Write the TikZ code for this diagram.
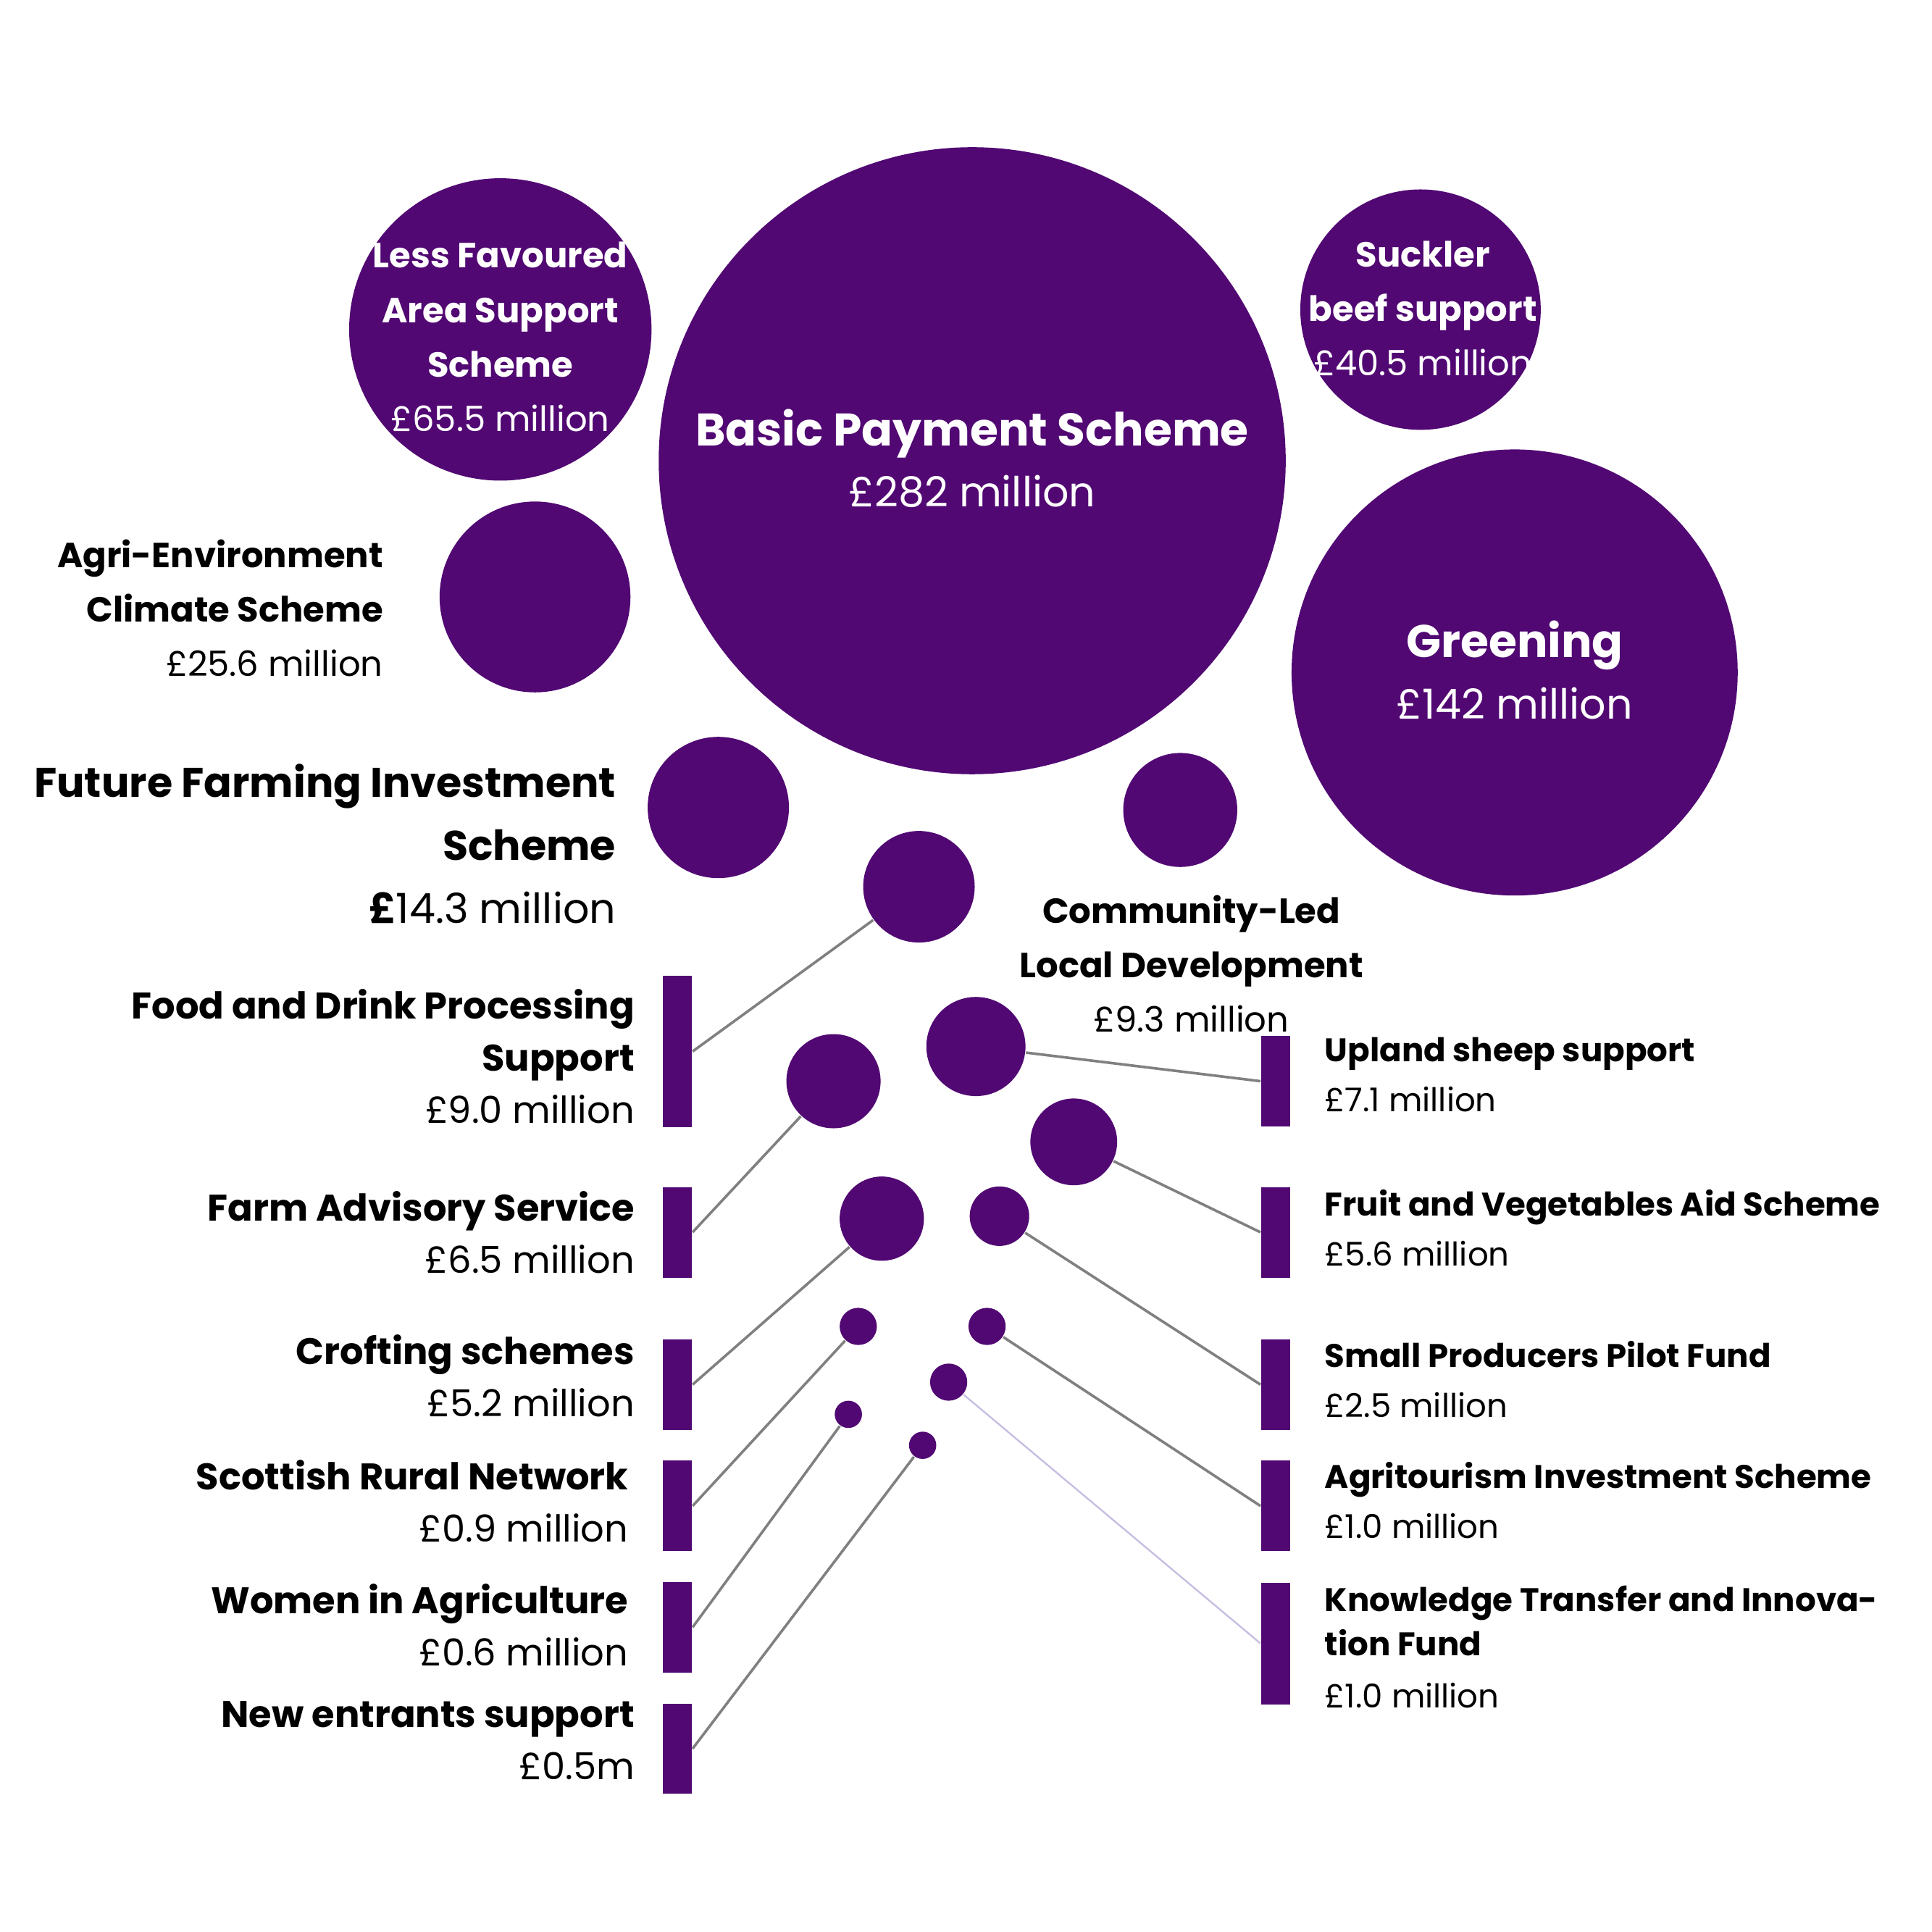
\documentclass[tikz,border=0pt]{standalone}
\usepackage{fontspec}
\setmainfont{Poppins}
\usetikzlibrary{positioning}
\definecolor{fundpurple}{RGB}{81,8,115}
\definecolor{linegrey}{RGB}{128,128,128}
\definecolor{lavender}{RGB}{200,190,225}

\begin{document}
\begin{tikzpicture}[x=0.01cm, y=-0.01cm,
					fund/.style={circle, fill=fundpurple, inner sep=0pt},
					bar/.style={rectangle, fill=fundpurple, inner sep=0pt, minimum width=0.23cm},
					inlabel/.style={text=white, align=center, font=\fontsize{8}{10}\selectfont, inner sep=0pt},
					leftlabel/.style={anchor=north east, align=right, font=\fontsize{8.5}{12}\selectfont, inner sep=0pt},
					rightlabel/.style={anchor=north west, align=left, font=\fontsize{7.5}{11.5}\selectfont, inner sep=0pt},
					link/.style={draw=linegrey, line width=0.6pt}
				]
				\useasboundingbox (0,0) rectangle (1560,1560);
				% large schemes
				\node[fund, minimum size=5.06cm] (bps) at (785,372) {};
				\node[fund, minimum size=2.44cm] (lfa) at (404,266) {};
				\node[fund, minimum size=1.94cm] (suckler) at (1147,250) {};
				\node[fund, minimum size=3.60cm] (greening) at (1223,543) {};
				\node[fund, minimum size=1.54cm] (aecs) at (432,482) {};
				\node[fund, minimum size=1.14cm] (ffis) at (580,652) {};
				\node[fund, minimum size=0.92cm] (clld) at (953,654) {};
				\node[inlabel, font=\fontsize{10.5}{14}\selectfont] at (785,370) {\textbf{Basic Payment Scheme}\\\fontsize{9.5}{12}\selectfont£282 million};
				\node[inlabel, font=\fontsize{10.5}{14}\selectfont] at (1223,541) {\textbf{Greening}\\\fontsize{9.5}{12}\selectfont£142 million};
				\node[inlabel, font=\fontsize{8}{12.5}\selectfont] at (404,272) {\textbf{Less Favoured}\\\textbf{Area Support}\\\textbf{Scheme}\\£65.5 million};
				\node[inlabel, font=\fontsize{8}{12.5}\selectfont] at (1149,249) {\textbf{Suckler}\\\textbf{beef support}\\£40.5 million};
				\node[leftlabel, font=\fontsize{8}{12.5}\selectfont] at (310,435) {\textbf{Agri-Environment}\\\textbf{Climate Scheme}\\£25.6 million};
				\node[leftlabel, font=\fontsize{9.5}{14.5}\selectfont] at (498,616) {\textbf{Future Farming Investment}\\\textbf{Scheme}\\\textbf{£}14.3 million};
				\node[anchor=north, align=center, font=\fontsize{8}{12.5}\selectfont, inner sep=0pt] at (962,722) {\textbf{Community-Led}\\\textbf{Local Development}\\£9.3 million};
				% small schemes
				\node[fund, minimum size=0.90cm] (food) at (742,716) {};
				\node[fund, minimum size=0.80cm] (upland) at (788,845) {};
				\node[fund, minimum size=0.76cm] (advisory) at (673,873) {};
				\node[fund, minimum size=0.70cm] (fruit) at (867,922) {};
				\node[fund, minimum size=0.68cm] (crofting) at (712,984) {};
				\node[fund, minimum size=0.48cm] (producers) at (807,982) {};
				\node[fund, minimum size=0.30cm] (network) at (693,1071) {};
				\node[fund, minimum size=0.30cm] (agritourism) at (797,1071) {};
				\node[fund, minimum size=0.30cm] (knowledge) at (766,1116) {};
				\node[fund, minimum size=0.22cm] (women) at (685,1142) {};
				\node[fund, minimum size=0.22cm] (entrants) at (745,1167) {};
				% bars, left
				\node[bar, minimum height=1.22cm] (foodbar) at (547,849) {};
				\node[bar, minimum height=0.73cm] (advisorybar) at (547,995) {};
				\node[bar, minimum height=0.73cm] (croftingbar) at (547,1118) {};
				\node[bar, minimum height=0.73cm] (networkbar) at (547,1216) {};
				\node[bar, minimum height=0.73cm] (womenbar) at (547,1314) {};
				\node[bar, minimum height=0.73cm] (entrantsbar) at (547,1412) {};
				% bars, right
				\node[bar, minimum height=0.73cm] (uplandbar) at (1030,873) {};
				\node[bar, minimum height=0.73cm] (fruitbar) at (1030,995) {};
				\node[bar, minimum height=0.73cm] (producersbar) at (1030,1118) {};
				\node[bar, minimum height=0.73cm] (agritourismbar) at (1030,1216) {};
				\node[bar, minimum height=0.98cm] (knowledgebar) at (1030,1327) {};
				% labels
				\node[leftlabel] at (513,798) {\textbf{Food and Drink Processing}\\\textbf{Support}\\£9.0 million};
				\node[leftlabel] at (513,961) {\textbf{Farm Advisory Service}\\£6.5 million};
				\node[leftlabel] at (513,1077) {\textbf{Crofting schemes}\\£5.2 million};
				\node[leftlabel] at (508,1178) {\textbf{Scottish Rural Network}\\£0.9 million};
				\node[leftlabel] at (508,1278) {\textbf{Women in Agriculture}\\£0.6 million};
				\node[leftlabel] at (513,1373) {\textbf{New entrants support}\\£0.5m};
				\node[rightlabel] at (1069,837) {\textbf{Upland sheep support}\\£7.1 million};
				\node[rightlabel] at (1069,960) {\textbf{Fruit and Vegetables Aid Scheme}\\£5.6 million};
				\node[rightlabel] at (1069,1082) {\textbf{Small Producers Pilot Fund}\\£2.5 million};
				\node[rightlabel] at (1069,1180) {\textbf{Agritourism Investment Scheme}\\£1.0 million};
				\node[rightlabel, font=\fontsize{7.5}{10}\selectfont] at (1069,1280) {\textbf{Knowledge Transfer and Innova-}\\\textbf{tion Fund}\\[2pt]£1.0 million};
				% connectors
				\draw[link] (foodbar.east) -- (food);
				\draw[link] (advisorybar.east) -- (advisory);
				\draw[link] (croftingbar.east) -- (crofting);
				\draw[link] (networkbar.east) -- (network);
				\draw[link] (womenbar.east) -- (women);
				\draw[link] (entrantsbar.east) -- (entrants);
				\draw[link] (uplandbar.west) -- (upland);
				\draw[link] (fruitbar.west) -- (fruit);
				\draw[link] (producersbar.west) -- (producers);
				\draw[link] (agritourismbar.west) -- (agritourism);
				\draw[draw=lavender, line width=0.4pt] (knowledgebar.west) -- (knowledge);
\end{tikzpicture}
\end{document}
